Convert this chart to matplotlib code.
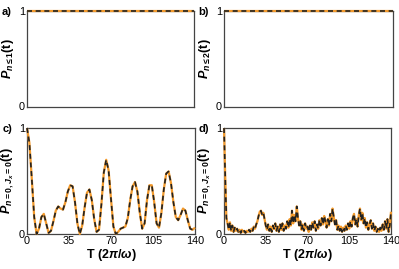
import matplotlib
matplotlib.use("Agg")
import matplotlib.pyplot as plt

plt.rcParams['font.family'] = ['Liberation Sans', 'DejaVu Sans']
plt.rcParams['mathtext.fontset'] = 'custom'
plt.rcParams['mathtext.rm'] = 'Liberation Sans:bold'
plt.rcParams['mathtext.it'] = 'Liberation Sans:italic:bold'
plt.rcParams['mathtext.bf'] = 'Liberation Sans:bold'

# panels a, b: constant probability
t_flat = [0, 140]
p_flat = [1.0, 1.0]

# panel c: sampled every 2 periods
t_c = list(range(0, 141, 2))
p_c = [1.00, 0.86, 0.52, 0.16, 0.00, 0.05, 0.16, 0.19, 0.10, 0.01,
       0.03, 0.12, 0.22, 0.26, 0.24, 0.23, 0.30, 0.40, 0.46, 0.45,
       0.30, 0.10, 0.00, 0.08, 0.25, 0.39, 0.42, 0.32, 0.14, 0.02,
       0.04, 0.28, 0.58, 0.70, 0.60, 0.33, 0.07, 0.00, 0.02, 0.05,
       0.06, 0.07, 0.15, 0.32, 0.45, 0.49, 0.40, 0.20, 0.05, 0.10,
       0.32, 0.46, 0.46, 0.30, 0.10, 0.06, 0.20, 0.42, 0.57, 0.59,
       0.48, 0.30, 0.16, 0.13, 0.18, 0.24, 0.22, 0.13, 0.05, 0.04,
       0.06]

# panel d: sampled every period
t_d = list(range(0, 141))
p_d = [1.00, 0.55, 0.15, 0.10, 0.04, 0.11, 0.03, 0.08, 0.02, 0.06,
       0.03, 0.05, 0.02, 0.04, 0.01, 0.04, 0.02, 0.03, 0.01, 0.03,
       0.02, 0.04, 0.02, 0.05, 0.03, 0.07, 0.05, 0.09, 0.12, 0.17,
       0.21, 0.22, 0.18, 0.20, 0.14, 0.08, 0.04, 0.09, 0.03, 0.07,
       0.02, 0.08, 0.05, 0.10, 0.03, 0.07, 0.02, 0.09, 0.04, 0.10,
       0.03, 0.08, 0.05, 0.12, 0.06, 0.14, 0.08, 0.22, 0.10, 0.18,
       0.12, 0.26, 0.15, 0.08, 0.12, 0.04, 0.09, 0.03, 0.10, 0.05,
       0.07, 0.02, 0.08, 0.04, 0.11, 0.06, 0.12, 0.03, 0.09, 0.05,
       0.13, 0.08, 0.15, 0.09, 0.17, 0.12, 0.06, 0.14, 0.08, 0.19,
       0.12, 0.24, 0.16, 0.09, 0.13, 0.04, 0.08, 0.03, 0.07, 0.02,
       0.06, 0.03, 0.08, 0.04, 0.10, 0.05, 0.12, 0.07, 0.15, 0.19,
       0.09, 0.14, 0.07, 0.18, 0.24, 0.13, 0.20, 0.10, 0.15, 0.06,
       0.11, 0.04, 0.09, 0.13, 0.05, 0.10, 0.03, 0.07, 0.02, 0.05,
       0.02, 0.06, 0.03, 0.09, 0.04, 0.12, 0.05, 0.14, 0.02, 0.08,
       0.21]

x_ticks = [0, 35, 70, 105, 140]
orange = "#f39a2c"
dark = "#222222"

W, H = 399, 269
fig = plt.figure(figsize=(W / 100, H / 100), dpi=100)

boxes = {
    "a": (27, 11, 194, 106.5),
    "b": (224, 11, 393, 106.5),
    "c": (27, 128, 195, 234),
    "d": (224, 128, 391, 234),
}
ylabels = {
    "a": r"$P_{n\leq1}$(t)",
    "b": r"$P_{n\leq2}$(t)",
    "c": r"$P_{n=0,J_x=0}$(t)",
    "d": r"$P_{n=0,J_x=0}$(t)",
}
data = {
    "a": (t_flat, p_flat),
    "b": (t_flat, p_flat),
    "c": (t_c, p_c),
    "d": (t_d, p_d),
}

for key, (x0, y0, x1, y1) in boxes.items():
    ax = fig.add_axes([x0 / W, 1 - y1 / H, (x1 - x0) / W, (y1 - y0) / H])
    t, p = data[key]
    ax.plot(t, p, color=orange, lw=1.6, solid_capstyle="butt", clip_on=False, zorder=5)
    ax.plot(t, p, color=dark, lw=1.2, dashes=(3, 2.2), clip_on=False, zorder=6)
    ax.set_xlim(0, 140)
    ax.set_ylim(0, 1)
    ax.set_yticks([0, 1])
    ax.set_yticklabels(["0", "1"])
    ax.tick_params(length=0, labelsize=7.8, pad=1.5)
    for s in ax.spines.values():
        s.set_color("#444444")
        s.set_linewidth(0.9)
    if key in ("c", "d"):
        ax.set_xticks(x_ticks)
        ax.set_xlabel(r"T (2$\pi/\omega$)", fontsize=9, fontweight="bold", labelpad=1)
    else:
        ax.set_xticks([])
    ax.set_ylabel(ylabels[key], fontsize=9, fontweight="bold", labelpad=2)
    fig.text((x0 - 15) / W, 1 - (y0 + 1) / H, key + ")", fontsize=8,
             fontweight="bold", ha="right", va="center")

fig.savefig("out.png", dpi=100)
